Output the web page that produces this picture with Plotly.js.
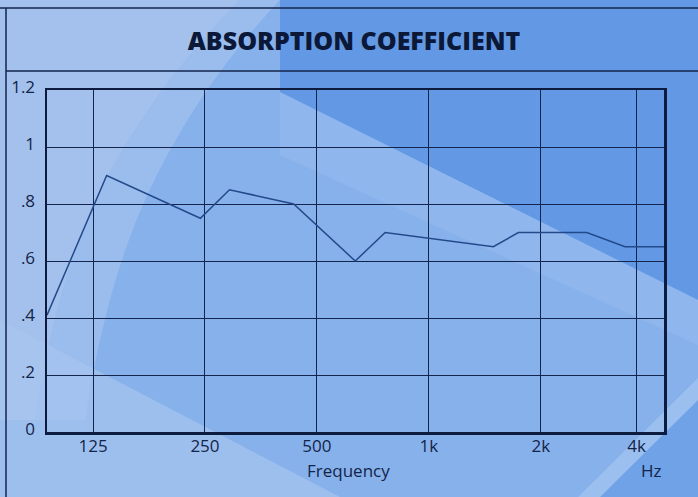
<!DOCTYPE html>
<html><head><meta charset="utf-8">
<script src="https://cdn.plot.ly/plotly-3.0.1.min.js"></script>
<style>html,body{margin:0;padding:0;background:#87b1eb;} #chart{width:698px;height:497px;}</style>
</head><body><div id="chart"></div>
<script>
// ---- data ----
const frequencies = [94, 136, 243, 291, 433, 634, 763, 1491, 1741, 2660, 3370, 4290];
const absorption  = [0.41, 0.90, 0.75, 0.85, 0.80, 0.60, 0.70, 0.65, 0.70, 0.70, 0.65, 0.65];
const xTickVals = [125, 250, 500, 1000, 2000, 3620];
const xTickText = ['125', '250', '500', '1k', '2k', '4k'];
const yTickVals = [0, 0.2, 0.4, 0.6, 0.8, 1, 1.2];
const yTickText = ['0', '.2', '.4', '.6', '.8', '1', '1.2'];

// ---- geometry helpers (pixel -> paper) ----
const W = 698, H = 497, L = 47, R = 34, T = 90, B = 65;
const pw = W - L - R, ph = H - T - B;
const X = p => (p - L) / pw;
const Y = p => (H - B - p) / ph;
function pathShape(d, fill, op) {
  const s = d.replace(/(-?\d+(?:\.\d+)?),(-?\d+(?:\.\d+)?)/g, (m, a, b) => X(+a).toFixed(4) + ',' + Y(+b).toFixed(4));
  return {type: 'path', xref: 'paper', yref: 'paper', layer: 'below', path: s,
          fillcolor: fill, opacity: op, line: {width: 0}};
}
function lineShape(x0, y0, x1, y1, w, c) {
  return {type: 'line', xref: 'paper', yref: 'paper', layer: 'above',
          x0: X(x0), y0: Y(y0), x1: X(x1), y1: Y(y1), line: {color: c, width: w}};
}

const navy = '#13244d';
const shapes = [
  pathShape('M 280,0 L 698,0 L 698,300 L 280,92 Z', '#6399e4', 1),
  pathShape('M 0,0 L 240,0 Q 150,90 95,200 Q 55,290 35,420 L 0,420 Z', '#a3c1ec', 1),
  pathShape('M 240,0 L 280,0 Q 195,90 145,200 Q 105,290 85,420 L 35,420 Q 55,290 95,200 Q 150,90 240,0 Z', '#b0caef', 0.5),
  pathShape('M 280,92 L 698,300 L 698,345 L 280,155 Z', '#a6c6f2', 0.3),
  pathShape('M 0,320 L 340,497 L 0,497 Z', '#a6c5f0', 0.7),
  pathShape('M 600,497 L 698,400 L 698,497 Z', '#6fa2e7', 1),
  pathShape('M 578,497 L 698,378 L 698,400 L 600,497 Z', '#a9c8f2', 0.6),
  lineShape(0, 8, 698, 8, 1.5, navy),
  lineShape(6, 8, 6, 497, 1.5, navy),
  lineShape(6, 71, 698, 71, 1.5, navy)
];

const trace = {
  x: frequencies, y: absorption, type: 'scatter', mode: 'lines',
  line: {color: '#23498a', width: 1.5}, hoverinfo: 'skip'
};

const tickFont = {family: 'Open Sans, sans-serif', size: 17, color: '#132449'};
const layout = {
  width: W, height: H,
  margin: {l: L, r: R, t: T, b: B, pad: 0},
  paper_bgcolor: 'rgba(0,0,0,0)', plot_bgcolor: 'rgba(0,0,0,0)',
  showlegend: false,
  title: {text: 'ABSORPTION COEFFICIENT', x: 354 / W, xref: 'container', xanchor: 'center',
          y: 1 - 41 / H, yref: 'container', yanchor: 'middle',
          font: {family: 'Open Sans, sans-serif', size: 25, color: '#0b1838', weight: 800}},
  xaxis: {type: 'log', range: [Math.log10(94), Math.log10(4290)],
          tickvals: xTickVals, ticktext: xTickText, tickfont: tickFont,
          showgrid: true, gridcolor: navy, gridwidth: 1,
          showline: true, mirror: true, linecolor: '#0d1b3f', linewidth: 2.5,
          ticks: '', ticklabelstandoff: -3, zeroline: false},
  yaxis: {range: [0, 1.2], tickvals: yTickVals, ticktext: yTickText, tickfont: tickFont,
          showgrid: true, gridcolor: navy, gridwidth: 1,
          showline: true, mirror: true, linecolor: '#0d1b3f', linewidth: 2.5,
          ticks: '', ticklabelstandoff: 6, ticklabelshift: -3, zeroline: false},
  shapes: shapes,
  annotations: [
    {text: 'Frequency', xref: 'paper', yref: 'paper', x: X(348), y: Y(471), showarrow: false,
     xanchor: 'center', yanchor: 'middle', font: tickFont},
    {text: 'Hz', xref: 'paper', yref: 'paper', x: X(651), y: Y(471), showarrow: false,
     xanchor: 'center', yanchor: 'middle', font: tickFont}
  ]
};

Plotly.newPlot('chart', [trace], layout, {displayModeBar: false, staticPlot: true});
</script>
</body></html>
